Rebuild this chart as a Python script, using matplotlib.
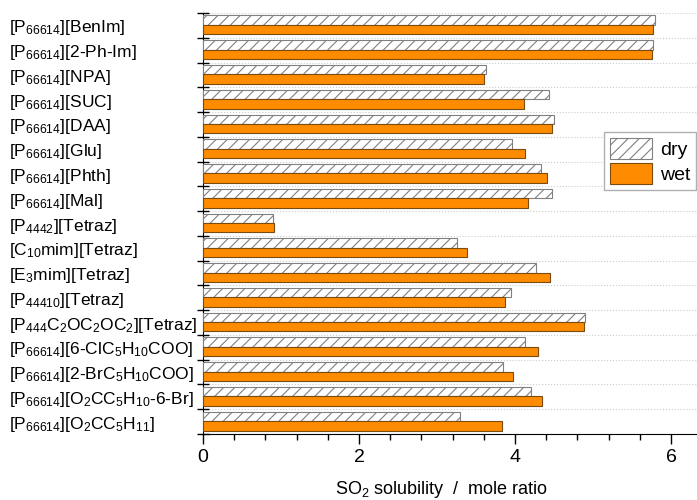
import numpy as np
import matplotlib
matplotlib.use('Agg')
import matplotlib.pyplot as plt
from matplotlib.patches import Patch

plt.rcParams['font.family'] = ['Liberation Sans', 'DejaVu Sans']
plt.rcParams['mathtext.fontset'] = 'custom'
plt.rcParams['mathtext.rm'] = 'Liberation Sans'
plt.rcParams['mathtext.it'] = 'Liberation Sans:italic'
plt.rcParams['mathtext.default'] = 'regular'
plt.rcParams['hatch.linewidth'] = 0.8

labels = [
    r'[P$_{66614}$][BenIm]',
    r'[P$_{66614}$][2-Ph-Im]',
    r'[P$_{66614}$][NPA]',
    r'[P$_{66614}$][SUC]',
    r'[P$_{66614}$][DAA]',
    r'[P$_{66614}$][Glu]',
    r'[P$_{66614}$][Phth]',
    r'[P$_{66614}$][Mal]',
    r'[P$_{4442}$][Tetraz]',
    r'[C$_{10}$mim][Tetraz]',
    r'[E$_3$mim][Tetraz]',
    r'[P$_{44410}$][Tetraz]',
    r'[P$_{444}$C$_2$OC$_2$OC$_2$][Tetraz]',
    r'[P$_{66614}$][6-ClC$_5$H$_{10}$COO]',
    r'[P$_{66614}$][2-BrC$_5$H$_{10}$COO]',
    r'[P$_{66614}$][O$_2$CC$_5$H$_{10}$-6-Br]',
    r'[P$_{66614}$][O$_2$CC$_5$H$_{11}$]',
]
dry = [5.79, 5.77, 3.63, 4.44, 4.50, 3.96, 4.33, 4.47, 0.90, 3.26, 4.27, 3.95, 4.90, 4.13, 3.85, 4.21, 3.29]
wet = [5.77, 5.75, 3.60, 4.11, 4.48, 4.13, 4.41, 4.17, 0.91, 3.38, 4.45, 3.87, 4.88, 4.30, 3.98, 4.35, 3.83]

fig = plt.figure(figsize=(6.97, 5.0), dpi=100)
ax = fig.add_axes([203/697, 1 - 434/500, 1 - 203/697, (434 - 13)/500])

y = np.arange(len(labels))
h = 0.38
ax.barh(y - h/2 - 0.02, dry, height=h, color='white', edgecolor='#808080',
        hatch='///', linewidth=0.8, zorder=3)
ax.barh(y + h/2 - 0.02, wet, height=h, color='#FF8C00', edgecolor='#7a4a10',
        linewidth=0.8, zorder=3)

ax.set_ylim(len(labels) - 0.5, -0.5)
ax.set_xlim(0, 494/78)

ax.set_yticks(y)
ax.set_yticklabels(labels, ha='left', fontsize=12.5)
ax.tick_params(axis='y', which='major', length=0, pad=140)
ax.set_yticks(np.arange(len(labels) + 1) - 0.5, minor=True)
ax.tick_params(axis='y', which='minor', length=8, direction='inout', width=1)
ax.grid(axis='y', which='minor', linestyle=':', color='#cccccc', linewidth=0.8, zorder=0)

ax.set_xticks([0, 2, 4, 6])
ax.set_xticks(np.arange(0, 6.4, 0.4), minor=True)
ax.tick_params(axis='x', which='major', length=7, width=1, labelsize=14, pad=4)
ax.tick_params(axis='x', which='minor', length=4, width=1)

ax.spines['top'].set_visible(False)
ax.spines['right'].set_visible(False)

ax.set_xlabel(r'SO$_2$ solubility  /  mole ratio', fontsize=13)
ax.xaxis.set_label_coords((441 - 203)/494, -0.108)

handles = [Patch(facecolor='white', edgecolor='#808080', hatch='///', linewidth=0.8),
           Patch(facecolor='#FF8C00', edgecolor='#7a4a10', linewidth=0.8)]
fig.legend(handles, ['dry', 'wet'], loc='upper left',
           bbox_to_anchor=(594/697, 1 - 122/500), fontsize=14, fancybox=False,
           edgecolor='#b0b0b0', framealpha=1, handlelength=2.2, handleheight=1.3,
           borderpad=0.3, handletextpad=0.4, labelspacing=0.2)

fig.savefig('out.png', dpi=100)
